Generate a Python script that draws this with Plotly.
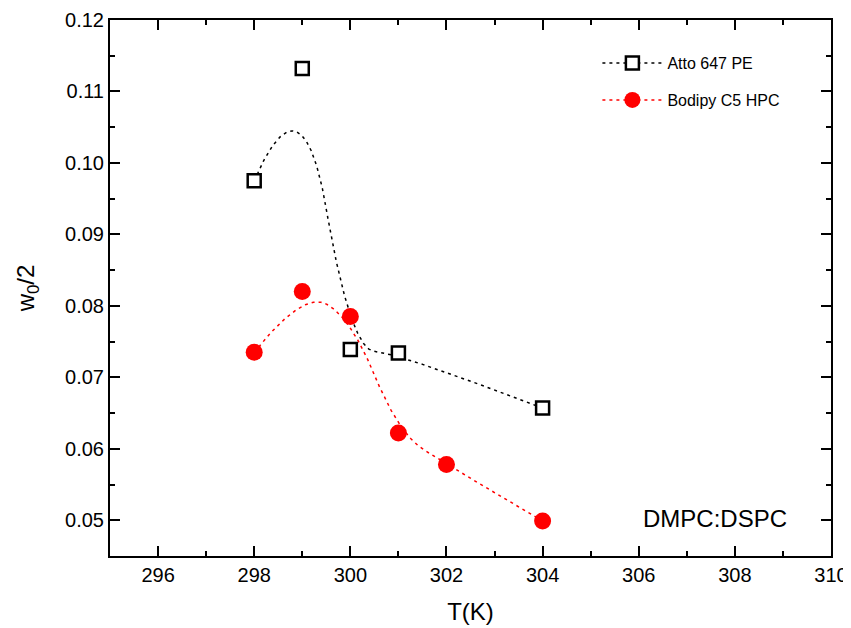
import numpy as np
import plotly.graph_objects as go

# Data
T_atto = [298, 299, 300, 301, 304]
w_atto = [0.0975, 0.1132, 0.0739, 0.0734, 0.0657]
T_bod = [298, 299, 300, 301, 302, 304]
w_bod = [0.0735, 0.0820, 0.0785, 0.0622, 0.0578, 0.0499]

x_ticks = [296, 298, 300, 302, 304, 306, 308, 310]
y_ticks = [0.05, 0.06, 0.07, 0.08, 0.09, 0.10, 0.11, 0.12]


def bspline(xs, ys, k=2, n=300):
    """Clamped uniform B-spline using the data points as control points (Origin-style B-spline connection)."""
    P = np.column_stack([xs, ys]).astype(float)
    m = len(P) - 1
    inner = np.arange(1, m - k + 1)
    knots = np.concatenate([np.zeros(k + 1), inner, np.full(k + 1, m - k + 1)]).astype(float)
    ts = np.linspace(0, knots[-1], n)
    out = []
    for t in ts:
        if t >= knots[-1]:
            s = m
        else:
            s = np.searchsorted(knots, t, side='right') - 1
        d = [P[j].copy() for j in range(s - k, s + 1)]
        for r in range(1, k + 1):
            for j in range(k, r - 1, -1):
                i = j + s - k
                denom = knots[i + k - r + 1] - knots[i]
                a = 0 if denom == 0 else (t - knots[i]) / denom
                d[j] = (1 - a) * d[j - 1] + a * d[j]
        out.append(d[k])
    out = np.array(out)
    return out[:, 0], out[:, 1]


bx1, by1 = bspline(T_atto, w_atto)
bx2, by2 = bspline(T_bod, w_bod)

FONT = "Liberation Sans, Arial, sans-serif"
dash = "3px,4px"

sq_marker = dict(symbol="square", size=13, color="white", line=dict(width=2.5, color="black"))
ci_marker = dict(symbol="circle", size=17, color="red", line=dict(width=0))

fig = go.Figure()
fig.add_trace(go.Scatter(x=bx1, y=by1, mode="lines", line=dict(color="black", width=1.5, dash=dash),
                         showlegend=False, hoverinfo="skip"))
fig.add_trace(go.Scatter(x=bx2, y=by2, mode="lines", line=dict(color="red", width=1.5, dash=dash),
                         showlegend=False, hoverinfo="skip"))
fig.add_trace(go.Scatter(x=T_atto, y=w_atto, mode="markers", showlegend=False, marker=sq_marker))
fig.add_trace(go.Scatter(x=T_bod, y=w_bod, mode="markers", showlegend=False, marker=ci_marker))
# legend entries
fig.add_trace(go.Scatter(x=[None], y=[None], mode="lines+markers", name="Atto 647 PE", legend="legend",
                         line=dict(color="black", width=1.5, dash=dash), marker=sq_marker))
fig.add_trace(go.Scatter(x=[None], y=[None], mode="lines+markers", name="Bodipy C5 HPC", legend="legend2",
                         line=dict(color="red", width=1.5, dash=dash), marker=ci_marker))

axis_common = dict(showline=True, linecolor="black", linewidth=2, mirror="ticks", ticks="inside",
                   ticklen=10, tickwidth=1.5, tickcolor="black", showgrid=False, zeroline=False,
                   automargin=False,
                   tickfont=dict(family=FONT, size=20, color="black"))

# page body has an 8px default margin, so the figure is 843x620 placed at (8,8)
fig.update_layout(
    width=843, height=620,
    margin=dict(l=102, r=20, t=12, b=72),
    paper_bgcolor="white", plot_bgcolor="white",
    font=dict(family=FONT, color="black"),
    xaxis=dict(range=[295, 310], tickvals=x_ticks, ticktext=[str(v) for v in x_ticks],
               minor=dict(ticks="inside", ticklen=5, tickwidth=1.5, tickcolor="black", dtick=1, tick0=295),
               title=dict(text="T(K)", font=dict(size=24, family=FONT), standoff=18),
               **axis_common),
    yaxis=dict(range=[0.045, 0.12], tickvals=y_ticks, ticktext=[f"{v:.2f}" for v in y_ticks],
               minor=dict(ticks="inside", ticklen=5, tickwidth=1.5, tickcolor="black", dtick=0.005, tick0=0.045),
               title=dict(text="w<sub>0</sub>/2", font=dict(size=24, family=FONT), standoff=24),
               **axis_common),
    legend=dict(x=0.676, y=0.9515, xanchor="left", yanchor="top", bgcolor="rgba(0,0,0,0)",
                font=dict(size=16, family=FONT), itemwidth=60),
    legend2=dict(x=0.676, y=0.8825, xanchor="left", yanchor="top", bgcolor="rgba(0,0,0,0)",
                 font=dict(size=16, family=FONT), itemwidth=60),
    annotations=[dict(text="DMPC:DSPC", x=(789 - 110) / 721, y=(556 - 518) / 536,
                      xref="paper", yref="paper", xanchor="right", yanchor="middle",
                      showarrow=False, font=dict(size=24, family=FONT, color="black"))],
)

fig.write_html("out.html")
